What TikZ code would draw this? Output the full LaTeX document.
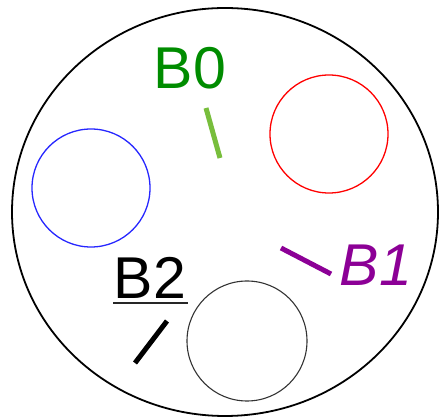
\documentclass[tikz,border=0pt]{standalone}
\usepackage{fontspec}
\setmainfont{Liberation Sans}
\usepackage{tikz}

\definecolor{labelgreen}{RGB}{0,140,0}
\definecolor{stickgreen}{RGB}{120,190,60}
\definecolor{labelpurple}{RGB}{140,0,150}

\begin{document}
\begin{tikzpicture}[x=1pt, y=-1pt]
    \useasboundingbox (0, 0) rectangle (440, 419);

    \draw[line width=1.8pt] (225, 212) ellipse [x radius=213, y radius=204];

    \draw[line width=1.3pt, blue!85] (91, 188) circle [radius=59];
    \draw[line width=1.3pt, red] (329, 134) circle [radius=59];
    \draw[line width=1.1pt, black!80] (247, 341) circle [radius=60];

    \node (b0) at (190, 68) {\fontsize{59}{59}\selectfont\color{labelgreen} B0};
    \node (b1) at (376, 265) {\fontsize{59}{59}\selectfont\itshape\color{labelpurple} B1};
    \node (b2) at (150, 278) {\fontsize{59}{59}\selectfont B2};
    \draw[line width=2.6pt, black!85] (113, 303) -- (188, 303);

    \draw[line width=5pt, stickgreen] (206, 108) -- (220, 158);
    \draw[line width=5pt, labelpurple] (281, 248) -- (331, 274);
    \draw[line width=5pt] (167, 321) -- (135, 363);

\end{tikzpicture}
\end{document}
